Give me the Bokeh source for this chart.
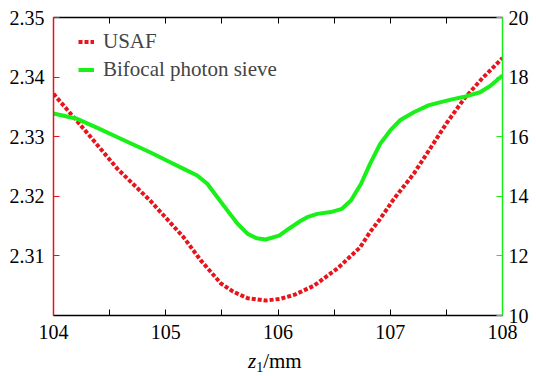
from bokeh.plotting import figure
from bokeh.models import (LinearAxis, Range1d, FixedTicker, Legend, LegendItem, Div)
from bokeh.layouts import column
from bokeh.embed import file_html
from bokeh.resources import INLINE

# ---- data ----
usaf_z = [104.0, 104.27, 104.57, 104.86, 105.16, 105.31, 105.49, 105.6, 105.73, 105.89,
          106.02, 106.15, 106.32, 106.53, 106.73, 106.82, 106.91, 107.03, 107.21, 107.51,
          107.66, 107.82, 108.0]
usaf_v = [2.3372, 2.3313, 2.3246, 2.3193, 2.3131, 2.3093, 2.3054, 2.3040, 2.3029, 2.3025,
          2.3028, 2.3035, 2.3050, 2.3079, 2.3114, 2.3140, 2.3162, 2.3195, 2.3238, 2.3325,
          2.3364, 2.3398, 2.3432]

sieve_z = [104.0, 104.21, 104.4, 104.57, 104.86, 105.04, 105.16, 105.28, 105.37, 105.46,
           105.55, 105.64, 105.73, 105.81, 105.89, 106.01, 106.1, 106.2, 106.26, 106.35,
           106.47, 106.57, 106.65, 106.74, 106.82, 106.91, 107.0, 107.09, 107.21, 107.34,
           107.45, 107.56, 107.65, 107.8, 107.89, 108.0]
sieve_v = [16.78, 16.60, 16.28, 15.98, 15.48, 15.14, 14.92, 14.70, 14.42, 13.97,
           13.52, 13.08, 12.74, 12.59, 12.55, 12.68, 12.92, 13.17, 13.30, 13.41,
           13.47, 13.58, 13.86, 14.42, 15.09, 15.76, 16.21, 16.56, 16.82, 17.05,
           17.16, 17.26, 17.33, 17.49, 17.70, 18.05]

x_major = [104, 105, 106, 107, 108]
x_minor = [104.5, 105.5, 106.5, 107.5]
left_ticks = [2.31, 2.32, 2.33, 2.34, 2.35]
right_ticks = [10, 12, 14, 16, 18, 20]

series_names = ["USAF", "Bifocal photon sieve"]

RED = "#e8131b"
GREEN = "#19f019"
FONT = "Liberation Serif"

p = figure(width=536, height=348, output_backend="svg", toolbar_location=None,
           x_range=Range1d(104, 108), y_range=Range1d(2.30, 2.35),
           min_border_left=53, min_border_right=34, min_border_top=17, min_border_bottom=33,
           x_axis_location=None, y_axis_location=None)
p.outline_line_color = None
p.xgrid.visible = False
p.ygrid.visible = False
p.background_fill_color = "white"
p.border_fill_color = "white"
p.extra_y_ranges = {"right": Range1d(10, 20)}

def style_axis(ax, color):
    ax.axis_line_color = color
    ax.axis_line_width = 1.5
    ax.major_tick_line_color = color
    ax.minor_tick_line_color = color
    ax.major_tick_in = 6
    ax.major_tick_out = 0
    ax.minor_tick_in = 6
    ax.minor_tick_out = 0
    ax.major_label_text_font = FONT
    ax.major_label_text_font_size = "20px"
    ax.major_label_text_color = "black"

xb = LinearAxis(ticker=FixedTicker(ticks=x_major, minor_ticks=x_minor))
style_axis(xb, "black")
xb.major_label_standoff = 9
p.add_layout(xb, "below")

xt = LinearAxis(ticker=FixedTicker(ticks=x_major, minor_ticks=x_minor))
style_axis(xt, "black")
xt.major_label_text_alpha = 0
xt.major_label_text_font_size = "1px"
xt.major_label_standoff = 0
p.add_layout(xt, "above")

yl = LinearAxis(ticker=FixedTicker(ticks=left_ticks, minor_ticks=[]))
style_axis(yl, RED)
yl.major_label_standoff = 9
p.add_layout(yl, "left")

yr = LinearAxis(y_range_name="right", ticker=FixedTicker(ticks=right_ticks, minor_ticks=[]))
style_axis(yr, GREEN)
yr.major_label_standoff = 6
p.add_layout(yr, "right")

r1 = p.line(usaf_z, usaf_v, line_color=RED, line_width=4, line_dash="4 2")
r2 = p.line(sieve_z, sieve_v, line_color=GREEN, line_width=4, y_range_name="right",
            line_join="round")

legend = Legend(items=[LegendItem(label=series_names[0], renderers=[r1]),
                       LegendItem(label=series_names[1], renderers=[r2])],
                location=(25, 233))
legend.border_line_color = None
legend.background_fill_alpha = 0
legend.label_text_font = FONT
legend.label_text_font_size = "21px"
legend.glyph_width = 16
legend.glyph_height = 25
legend.label_height = 25
legend.label_standoff = 9
legend.spacing = 3
legend.padding = 10
legend.margin = 0
p.add_layout(legend, "center")

# x-axis title below the chart: italic z, subscript 1, then /mm
title = Div(text='<i>z</i><sub style="font-size:14px;line-height:0;vertical-align:-4px">1</sub>/mm',
            width=536, height=28, margin=0,
            styles={"font-family": "'Liberation Serif', 'Times New Roman', serif",
                    "font-size": "21px", "line-height": "22px",
                    "padding-left": "248px", "padding-top": "2px", "color": "black",
                    "background-color": "white", "overflow": "visible"})

layout = column(p, title, spacing=0)
open("out.html", "w").write(file_html(layout, INLINE))
